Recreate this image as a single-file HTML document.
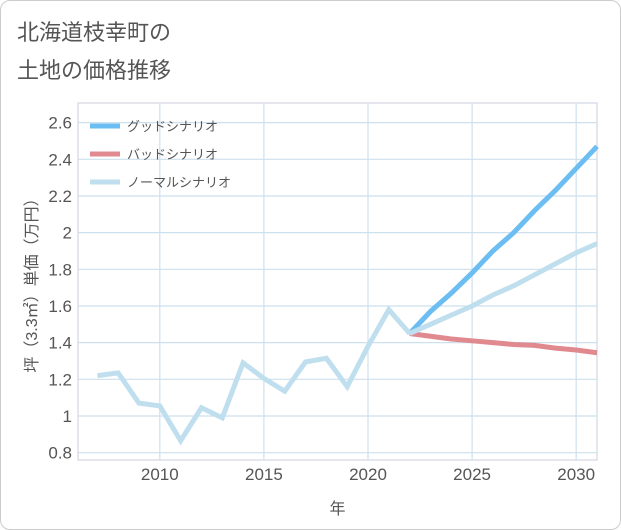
<!DOCTYPE html>
<html><head><meta charset="utf-8"><style>
body{margin:0;background:#fff;}
.card{position:absolute;left:0;top:0;width:619px;height:528px;border:1px solid #ccc;border-radius:10px;background:#fff;}
text{font-family:"Liberation Sans","Noto Sans CJK JP",sans-serif;}
</style></head><body>
<div class="card"></div>
<svg id="c" width="621" height="530" style="position:absolute;left:0;top:0">
<text x="17" y="40" font-size="22" fill="#555">北海道枝幸町の</text>
<text x="17" y="78" font-size="22" fill="#555">土地の価格推移</text>
</svg>
<script>
const years=[2007,2008,2009,2010,2011,2012,2013,2014,2015,2016,2017,2018,2019,2020,2021,2022];
const history=[1.22,1.235,1.07,1.055,0.865,1.045,0.99,1.29,1.205,1.135,1.295,1.315,1.16,1.38,1.58,1.45];
const futureYears=[2022,2023,2024,2025,2026,2027,2028,2029,2030,2031];
const good=[1.45,1.57,1.67,1.78,1.9,2.0,2.12,2.23,2.35,2.47];
const normal=[1.45,1.5,1.55,1.6,1.66,1.71,1.77,1.83,1.89,1.94];
const bad=[1.45,1.435,1.42,1.41,1.4,1.39,1.385,1.37,1.36,1.345];
const xTicks=[2010,2015,2020,2025,2030];
const yTicks=[0.8,1,1.2,1.4,1.6,1.8,2,2.2,2.4,2.6];
const legendLabels=["グッドシナリオ","バッドシナリオ","ノーマルシナリオ"];
const L=78,R=597,T=103,B=460,x0=2006.07,x1=2031,y0=0.76,y1=2.707;
const X=v=>L+(v-x0)/(x1-x0)*(R-L), Y=v=>B-(v-y0)/(y1-y0)*(B-T);
const svg=document.getElementById('c'),NS='http://www.w3.org/2000/svg';
function mk(t,a,p){const e=document.createElementNS(NS,t);for(const k in a)e.setAttribute(k,a[k]);(p||svg).appendChild(e);return e;}
const frame=mk('rect',{x:L,y:T,width:R-L,height:B-T,fill:'none',stroke:'#ccd'});


yTicks.forEach(v=>{const g=mk('line',{x1:L,x2:R,y1:Y(v),y2:Y(v),stroke:'#cde0ee','stroke-width':1.2});


const t=mk('text',{x:L-6,y:Y(v)+6,'text-anchor':'end','font-size':17,fill:'#555'});t.textContent=String(v);

});
xTicks.forEach(v=>{const g=mk('line',{x1:X(v),x2:X(v),y1:T,y2:B,stroke:'#cde0ee','stroke-width':1.2});


const t=mk('text',{x:X(v),y:B+20,'text-anchor':'middle','font-size':17,fill:'#555'});t.textContent=String(v);

});
function line(xs,ys,c,n){const p=mk('polyline',{points:xs.map((x,i)=>X(x)+','+Y(ys[i])).join(' '),fill:'none',stroke:c,'stroke-width':5,'stroke-linejoin':'miter'});

}
line(futureYears,bad,'#e08a90','bad-scenario-line');
line(futureYears,good,'#6bbdf2','good-scenario-line');
line(futureYears,normal,'#c0dfee','normal-scenario-line');
line(years,history,'#c0dfee','history-line');
const cols=['#6bbdf2','#e08a90','#c0dfee'];
legendLabels.forEach((s,i)=>{const y=126+i*28;const l=mk('line',{x1:90,x2:120,y1:y,y2:y,stroke:cols[i],'stroke-width':5});


const t=mk('text',{x:127,y:y+5,'font-size':13,fill:'#555'});t.textContent=s;

});
const yt=mk('text',{transform:'translate(37,'+((T+B)/2)+') rotate(-90)','text-anchor':'middle','font-size':16,fill:'#555'});yt.textContent='坪（3.3㎡）単価（万円）';


const xt=mk('text',{x:(L+R)/2,y:514,'text-anchor':'middle','font-size':16,fill:'#555'});xt.textContent='年';


</script>
</body></html>
